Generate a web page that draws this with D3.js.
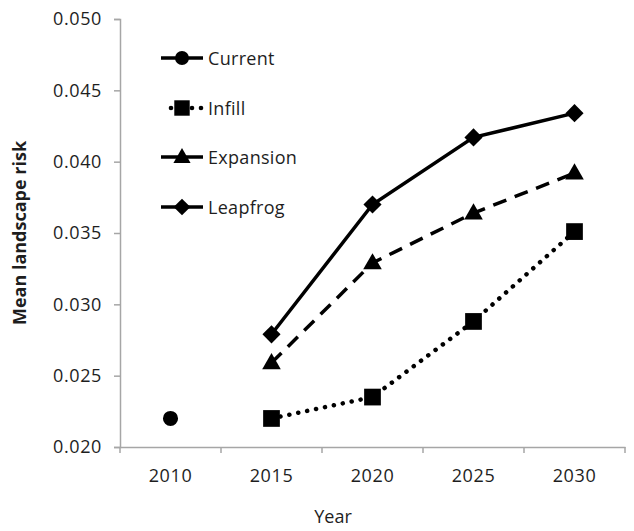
<!DOCTYPE html>
<html><head><meta charset="utf-8">
<script src="https://cdn.jsdelivr.net/npm/d3@7"></script>
<style>
html,body{margin:0;padding:0;background:#fff;}
text{font-family:"Open Sans",sans-serif;fill:#1e1e1e;}
</style></head>
<body><svg id="c" width="634" height="531"></svg>
<script>
const years = ["2010","2015","2020","2025","2030"];
const yTicks = [0.020,0.025,0.030,0.035,0.040,0.045,0.050];
const current = [0.0220,null,null,null,null];
const infill = [null,0.0220,0.0235,0.0288,0.0351];
const expansion = [null,0.0259,0.0329,0.0364,0.0392];
const leapfrog = [null,0.0279,0.0370,0.0417,0.0434];
const seriesNames = ["Current","Infill","Expansion","Leapfrog"];

const series = [
  {name:seriesNames[0], values:current, style:"solid", sym:d3.symbolCircle, size:180, rot:0},
  {name:seriesNames[1], values:infill, style:"dot", sym:d3.symbolSquare, size:280, rot:0},
  {name:seriesNames[2], values:expansion, style:"dash", sym:d3.symbolTriangle, size:150, rot:0},
  {name:seriesNames[3], values:leapfrog, style:"solid", sym:d3.symbolSquare, size:165, rot:45}
];
const dashOf = s => s.style==="dot" ? "0.1 9" : s.style==="dash" ? "14 9" : null;

const svg = d3.select("#c");
const L=120, R=625, T=19, B=447;
const x = d3.scaleBand().domain(years).range([L,R]);
const y = d3.scaleLinear().domain([0.020,0.050]).range([B,T]);
const axisColor="#a6a6a6";

// y axis
const ya = svg.append("g").attr("transform",`translate(${L},0)`)
  .call(d3.axisLeft(y).tickValues(yTicks).tickFormat(d3.format(".3f")).tickSize(6).tickPadding(12));
ya.select(".domain").attr("stroke",axisColor).attr("stroke-width",1.5);
ya.selectAll(".tick line").attr("stroke",axisColor).attr("stroke-width",1.5);
ya.selectAll(".tick text").style("font-size","18px").style("letter-spacing","0.6px").attr("fill","#1e1e1e");

// x axis
const xa = svg.append("g").attr("transform",`translate(0,${B})`)
  .call(d3.axisBottom(x).tickSize(0).tickPadding(22));
xa.select(".domain").attr("stroke",axisColor).attr("stroke-width",1.5);
xa.selectAll(".tick text").style("font-size","18px").style("letter-spacing","0.6px").attr("fill","#1e1e1e");
const bounds = years.map(d=>x(d)).concat([x(years[years.length-1])+x.bandwidth()]);
svg.append("g").selectAll("line").data(bounds).join("line")
  .attr("x1",d=>d).attr("x2",d=>d).attr("y1",B).attr("y2",B+6)
  .attr("stroke",axisColor).attr("stroke-width",1.5);

// titles
svg.append("text").attr("x",333).attr("y",523).attr("text-anchor","middle")
  .style("font-size","18px").text("Year");
svg.append("text").attr("transform",`translate(26,233) rotate(-90)`).attr("text-anchor","middle")
  .style("font-size","18px").style("font-weight","bold").text("Mean landscape risk");

const cx = d=>x(d)+x.bandwidth()/2;
const markTf = (s,px,py) => `translate(${px},${py+(s.sym===d3.symbolTriangle?1:0)}) rotate(${s.rot})`;
// lines
series.forEach(s=>{
  const pts = years.map((yr,i)=>({yr,v:s.values[i]})).filter(p=>p.v!=null);
  if(pts.length>1){
    svg.append("path").datum(pts)
      .attr("d",d3.line().x(p=>cx(p.yr)).y(p=>y(p.v)))
      .attr("fill","none").attr("stroke","#000").attr("stroke-width",s.style==="dot"?4.5:3.5)
      .attr("stroke-linecap", s.style==="dot"?"round":"butt")
      .attr("stroke-dasharray",dashOf(s));
  }
  svg.append("g").selectAll("path").data(pts).join("path")
    .attr("transform",p=>markTf(s,cx(p.yr),y(p.v)))
    .attr("d",d3.symbol().type(s.sym).size(s.size)).attr("fill","#000");
});

// legend
const legY=[58,108,157,207];
series.forEach((s,i)=>{
  const g = svg.append("g").attr("transform",`translate(0,${legY[i]})`);
  if(s.style==="dot"){
    g.selectAll("circle").data([171,192,201]).join("circle")
      .attr("cx",d=>d).attr("cy",0).attr("r",2.3).attr("fill","#000");
  } else {
    g.append("line").attr("x1",161).attr("x2",203).attr("y1",0).attr("y2",0)
      .attr("stroke","#000").attr("stroke-width",3.5);
  }
  g.append("path").attr("transform",markTf(s,182,0))
    .attr("d",d3.symbol().type(s.sym).size(s.size*0.85)).attr("fill","#000");
  g.append("text").attr("x",208).attr("y",6.5).style("font-size","18px").style("letter-spacing","0.3px").text(s.name);
});
</script></body></html>
